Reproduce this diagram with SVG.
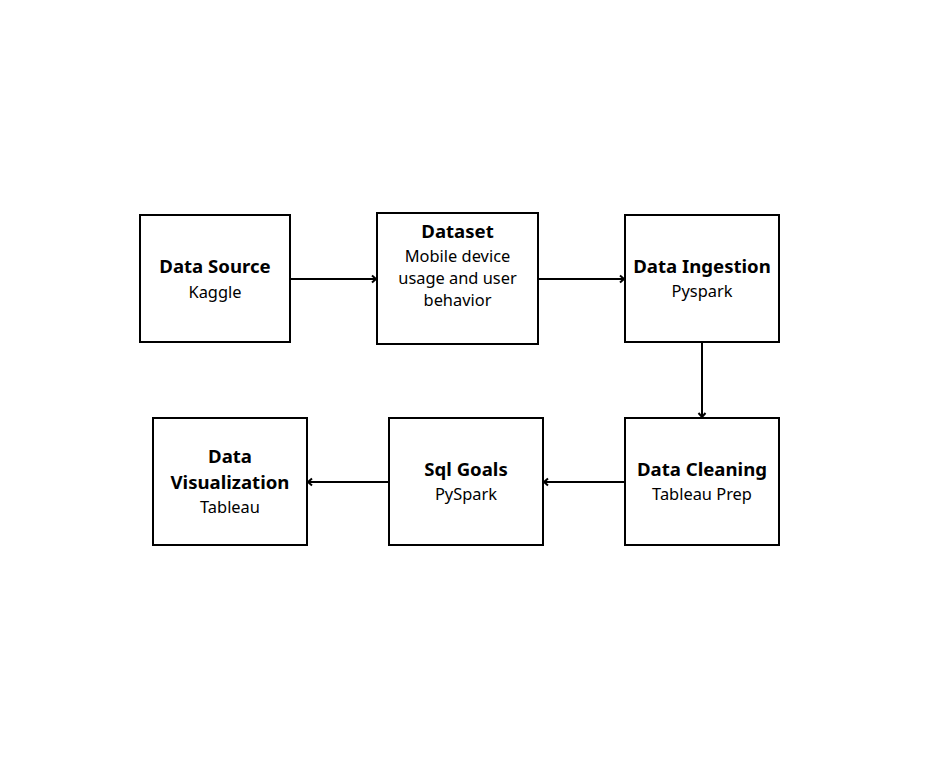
<svg xmlns="http://www.w3.org/2000/svg" width="951" height="773" viewBox="0 0 951 773">
<style>
.box{fill:#fff;stroke:#000;stroke-width:2}
.t{font-family:"Noto Sans","Open Sans",sans-serif;font-weight:bold;font-size:18.6px;text-anchor:middle;fill:#000}
.s{font-family:"Noto Sans","Open Sans",sans-serif;font-size:16.4px;text-anchor:middle;fill:#000}
.c{fill:none;stroke:#000;stroke-width:2}
</style>
<defs>
<marker id="ah" markerWidth="10" markerHeight="10" refX="7" refY="5" orient="auto" markerUnits="userSpaceOnUse">
<path d="M3,1.5 L7,5 L3,8.5" fill="none" stroke="#000" stroke-width="2"/>
</marker>
</defs>
<rect width="951" height="773" fill="#fff"/>
<g id="connectors">
<line class="c" x1="290" y1="279" x2="376" y2="279" marker-end="url(#ah)"/>
<line class="c" x1="538" y1="279" x2="624" y2="279" marker-end="url(#ah)"/>
<line class="c" x1="702" y1="342" x2="702" y2="417" marker-end="url(#ah)"/>
<line class="c" x1="625" y1="482" x2="544" y2="482" marker-end="url(#ah)"/>
<line class="c" x1="389" y1="482" x2="308" y2="482" marker-end="url(#ah)"/>
</g>
<g id="data-source">
<rect class="box" x="140" y="215" width="150" height="127"/>
<text class="t" x="215" y="273">Data Source</text>
<text class="s" x="215" y="298">Kaggle</text>
</g>
<g id="dataset">
<rect class="box" x="377" y="213" width="161" height="131"/>
<text class="t" x="457.5" y="238">Dataset</text>
<text class="s" x="457.5" y="262">Mobile device</text>
<text class="s" x="457.5" y="284">usage and user</text>
<text class="s" x="457.5" y="306">behavior</text>
</g>
<g id="data-ingestion">
<rect class="box" x="625" y="215" width="154" height="127"/>
<text class="t" x="702" y="273">Data Ingestion</text>
<text class="s" x="702" y="297">Pyspark</text>
</g>
<g id="data-cleaning">
<rect class="box" x="625" y="418" width="154" height="127"/>
<text class="t" x="702" y="476">Data Cleaning</text>
<text class="s" x="702" y="500">Tableau Prep</text>
</g>
<g id="sql-goals">
<rect class="box" x="389" y="418" width="154" height="127"/>
<text class="t" x="466" y="476">Sql Goals</text>
<text class="s" x="466" y="500">PySpark</text>
</g>
<g id="data-visualization">
<rect class="box" x="153" y="418" width="154" height="127"/>
<text class="t" x="230" y="463">Data</text>
<text class="t" x="230" y="489">Visualization</text>
<text class="s" x="230" y="513">Tableau</text>
</g>
</svg>
